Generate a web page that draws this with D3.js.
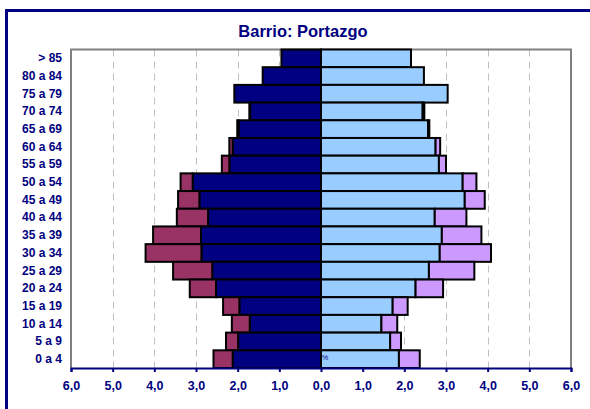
<!DOCTYPE html>
<html>
<head>
<meta charset="utf-8">
<script src="https://cdn.jsdelivr.net/npm/d3@7"></script>
<style>
  body { margin: 0; background: #fff; }
  svg { display: block; font-family: Arial, "Liberation Sans", sans-serif; }
</style>
</head>
<body>
<div id="chart"></div>
<script>
  'use strict';

  // Age groups, top of the pyramid first
  var ageGroups = ['> 85', '80 a 84', '75 a 79', '70 a 74', '65 a 69',
    '60 a 64', '55 a 59', '50 a 54', '45 a 49', '40 a 44', '35 a 39',
    '30 a 34', '25 a 29', '20 a 24', '15 a 19', '10 a 14', '5 a 9', '0 a 4'];

  // Percentages, men (left side)
  var menNative = [0.95, 1.40, 2.08, 1.70, 1.98, 2.12, 2.20, 3.08, 2.92,
    2.71, 2.88, 2.87, 2.61, 2.52, 1.96, 1.71, 1.99, 2.12];
  var menForeign = [0, 0, 0, 0.02, 0.03, 0.08, 0.18, 0.29, 0.51,
    0.75, 1.15, 1.34, 0.94, 0.63, 0.39, 0.43, 0.29, 0.46];

  // Percentages, women (right side)
  var womenNative = [2.16, 2.47, 3.04, 2.44, 2.57, 2.75, 2.83, 3.40, 3.45,
    2.73, 2.90, 2.85, 2.59, 2.27, 1.72, 1.45, 1.66, 1.87];
  var womenForeign = [0, 0, 0, 0.04, 0.03, 0.11, 0.17, 0.33, 0.48,
    0.76, 0.95, 1.23, 1.09, 0.66, 0.36, 0.38, 0.26, 0.50];

  // Axis ticks
  var tickValues = [-6, -5, -4, -3, -2, -1, 0, 1, 2, 3, 4, 5, 6];

  var WIDTH = 590, HEIGHT = 409;
  var NAVY = '#000080';
  var PLOT = { left: 71, right: 571, top: 49.5, bottom: 368 };

  var svg = d3.select('#chart').append('svg')
    .attr('width', WIDTH)
    .attr('height', HEIGHT);

  // Outer frame (runs off the right and bottom edges)
  svg.append('rect')
    .attr('x', 6.5).attr('y', 10.5)
    .attr('width', 600).attr('height', 420)
    .attr('fill', 'none')
    .attr('stroke', NAVY)
    .attr('stroke-width', 3);

  // Title
  svg.append('text')
    .attr('x', 303).attr('y', 37)
    .attr('text-anchor', 'middle')
    .attr('fill', NAVY)
    .style('font-size', '16.5px')
    .style('font-weight', 'bold')
    .text('Barrio: Portazgo');

  var x = d3.scaleLinear().domain([-6, 6]).range([PLOT.left, PLOT.right]);
  var y = d3.scaleBand().domain(ageGroups)
    .range([PLOT.top, PLOT.bottom]).padding(0);

  // Dashed gridlines
  svg.append('g')
    .selectAll('line')
    .data(tickValues.filter(function(d) { return d !== 0 && Math.abs(d) !== 6; }))
    .join('line')
    .attr('x1', function(d) { return Math.round(x(d)) + 0.5; })
    .attr('x2', function(d) { return Math.round(x(d)) + 0.5; })
    .attr('y1', PLOT.top)
    .attr('y2', PLOT.bottom)
    .attr('stroke', '#c0c0c0')
    .attr('stroke-dasharray', '7,5');

  // Plot border (gray on left, top and right)
  svg.append('path')
    .attr('d', 'M' + PLOT.left + ',' + PLOT.bottom + 'V' + PLOT.top +
      'H' + PLOT.right + 'V' + PLOT.bottom)
    .attr('fill', 'none')
    .attr('stroke', '#808080')
    .attr('stroke-width', 2);

  // Build the bar segments from the series
  var segments = [];
  ageGroups.forEach(function(g, i) {
    segments.push({ group: g, x0: -menNative[i], x1: 0, color: NAVY });
    segments.push({ group: g, x0: -(menNative[i] + menForeign[i]),
      x1: -menNative[i], color: '#993366' });
    segments.push({ group: g, x0: 0, x1: womenNative[i], color: '#99ccff' });
    segments.push({ group: g, x0: womenNative[i],
      x1: womenNative[i] + womenForeign[i], color: '#cc99ff' });
  });

  svg.append('g')
    .selectAll('rect')
    .data(segments.filter(function(d) { return d.x1 - d.x0 > 0; }))
    .join('rect')
    .attr('x', function(d) { return x(d.x0); })
    .attr('y', function(d) { return y(d.group); })
    .attr('width', function(d) { return x(d.x1) - x(d.x0); })
    .attr('height', y.bandwidth())
    .attr('fill', function(d) { return d.color; })
    .attr('stroke', '#000')
    .attr('stroke-width', 2);

  // Value axis at the bottom
  var fmt = d3.format('.1f');
  var xAxis = d3.axisBottom(x)
    .tickValues(tickValues)
    .tickSize(4)
    .tickFormat(function(d) { return fmt(Math.abs(d)).replace('.', ','); });

  var gx = svg.append('g')
    .attr('transform', 'translate(0,' + PLOT.bottom + ')')
    .call(xAxis);
  gx.select('.domain').attr('stroke', NAVY).attr('stroke-width', 2);
  gx.selectAll('.tick line').attr('stroke', NAVY).attr('stroke-width', 2);
  gx.selectAll('.tick text')
    .attr('fill', NAVY)
    .attr('dy', '1.2em')
    .style('font-size', '12.5px')
    .style('font-weight', 'bold');

  // Age group labels
  var yAxis = d3.axisLeft(y).tickSize(0).tickPadding(9);
  var gy = svg.append('g')
    .attr('transform', 'translate(' + PLOT.left + ',0)')
    .call(yAxis);
  gy.select('.domain').remove();
  gy.selectAll('.tick text')
    .attr('fill', NAVY)
    .style('font-size', '12px')
    .style('font-weight', 'bold');

  // Small unit label next to the centre line
  svg.append('text')
    .attr('x', x(0) + 1).attr('y', y('0 a 4') + 10)
    .attr('fill', NAVY)
    .style('font-size', '7px')
    .text('%');
</script>
</body>
</html>
